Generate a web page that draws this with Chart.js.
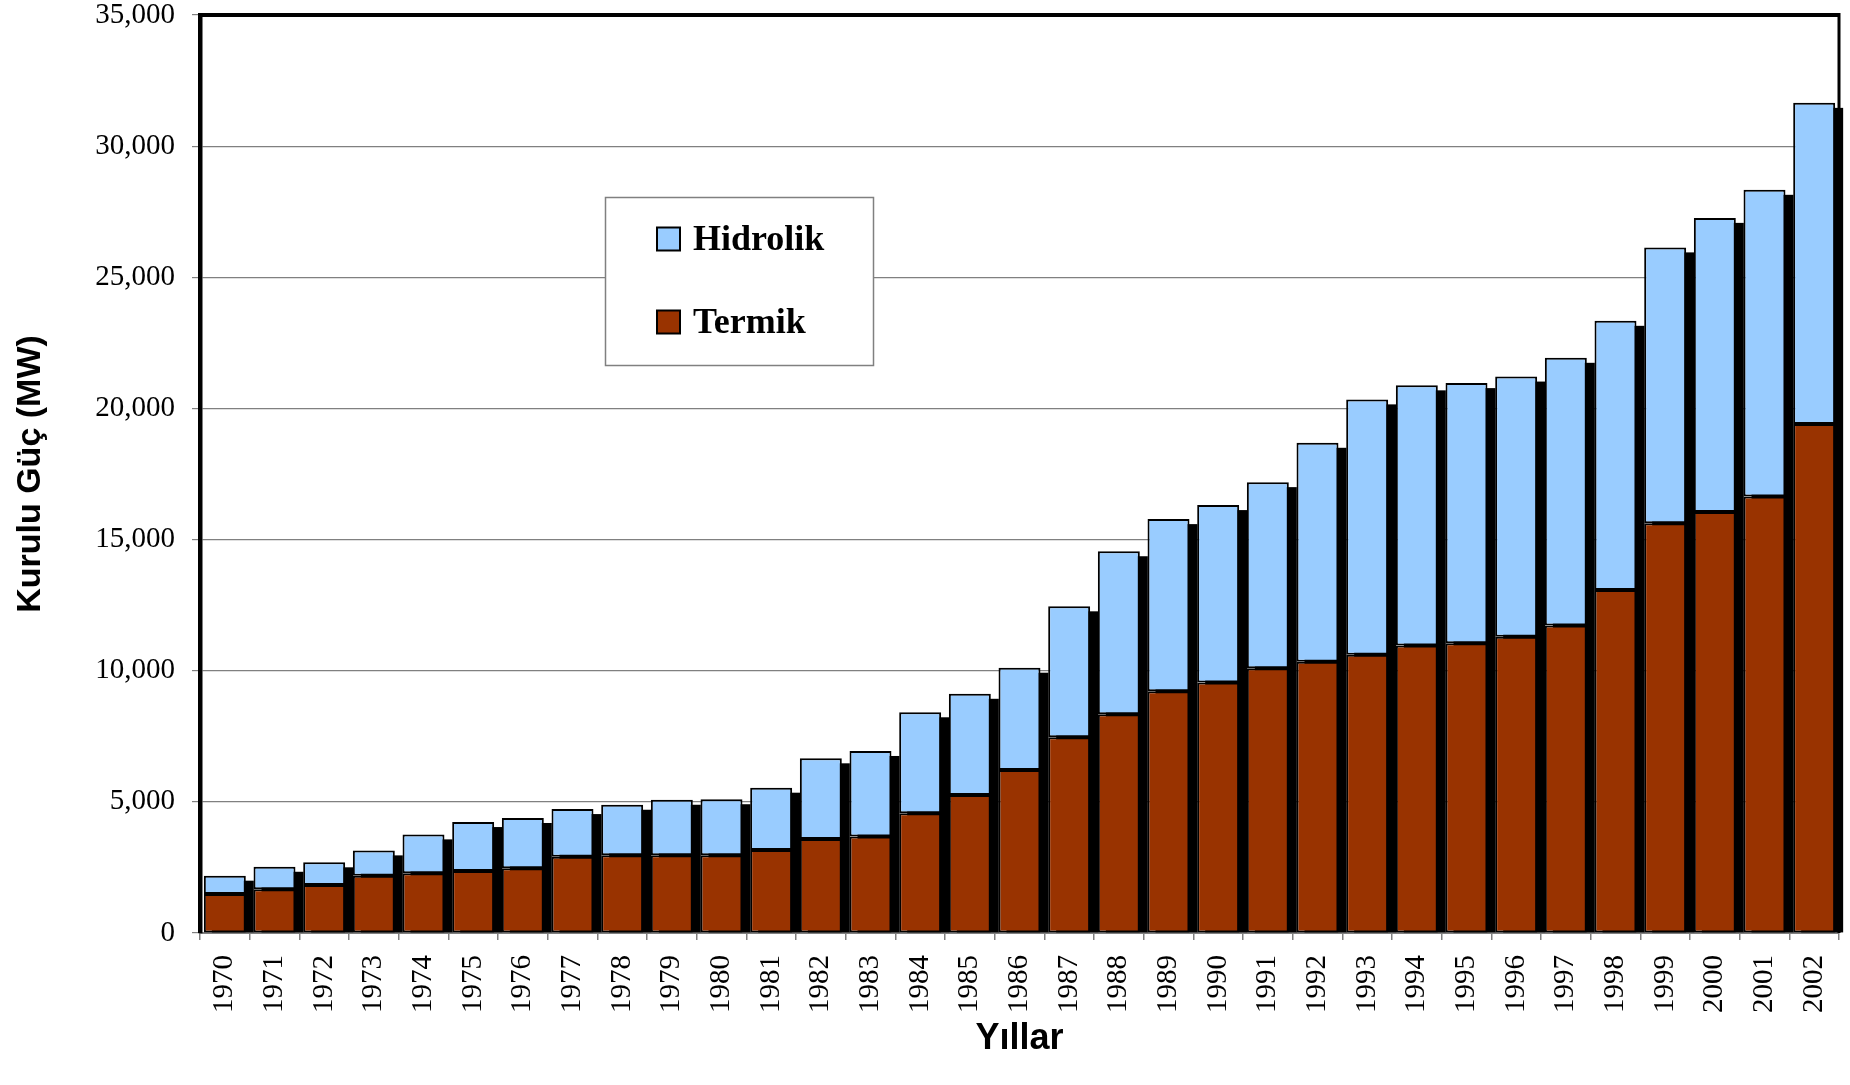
<!DOCTYPE html>
<html>
<head>
<meta charset="utf-8">
<script src="https://cdn.jsdelivr.net/npm/chart.js@4.4.1/dist/chart.umd.min.js"></script>
<style>
  html, body { margin: 0; padding: 0; background: #ffffff; }
  canvas { display: block; }
</style>
</head>
<body>
<canvas id="chart" width="1850" height="1085"></canvas>
<script>
// ---- Data ----
const years = ['1970','1971','1972','1973','1974','1975','1976','1977','1978','1979',
               '1980','1981','1982','1983','1984','1985','1986','1987','1988','1989',
               '1990','1991','1992','1993','1994','1995','1996','1997','1998','1999',
               '2000','2001','2002'];

const termik = [1490, 1665, 1830, 2185, 2275, 2365, 2465, 2910, 2960, 2960,
                2960, 3165, 3585, 3675, 4565, 5260, 6215, 7460, 8340, 9215,
                9555, 10090, 10340, 10610, 10965, 11045, 11295, 11725, 13075, 15620,
                16050, 16645, 19405];

const hidrolik = [695, 860, 865, 965, 1485, 1865, 1920, 1815, 1930, 2120,
                  2140, 2375, 3075, 3265, 3850, 3860, 3900, 4995, 6215, 6565,
                  6760, 7100, 8350, 9735, 9915, 9920, 9920, 10205, 10265, 10520,
                  11215, 11690, 12245];

const yTickValues = [0, 5000, 10000, 15000, 20000, 25000, 30000, 35000];

const seriesNames = ['Termik', 'Hidrolik'];
const seriesColors = ['#993300', '#99CCFF'];
const yTitle = 'Kurulu Güç (MW)';
const xTitle = 'Yıllar';

// ---- Plugins ----
const SH_DX = 8, SH_DY = 5;
const shadowPlugin = {
  id: 'barShadow',
  beforeDatasetsDraw(chart) {
    const ctx = chart.ctx;
    const topEls = chart.getDatasetMeta(1).data;
    const botEls = chart.getDatasetMeta(0).data;
    ctx.save();
    ctx.fillStyle = '#000000';
    topEls.forEach((el, i) => {
      const p = el.getProps(['x', 'y', 'width'], true);
      const base = botEls[i].getProps(['base'], true).base;
      ctx.fillRect(p.x - p.width / 2 + SH_DX, p.y + SH_DY, p.width, base - p.y - SH_DY);
    });
    ctx.restore();
  }
};

const framePlugin = {
  id: 'frame',
  afterDatasetsDraw(chart) {
    const ctx = chart.ctx;
    const a = chart.chartArea;
    ctx.save();
    ctx.strokeStyle = '#000000';
    ctx.lineWidth = 4;
    ctx.beginPath();
    ctx.moveTo(a.left - 2, a.top);
    ctx.lineTo(a.right, a.top);
    ctx.stroke();
    ctx.lineWidth = 3;
    ctx.beginPath();
    ctx.moveTo(a.right, a.top - 2);
    ctx.lineTo(a.right, a.bottom);
    ctx.stroke();
    ctx.restore();
  }
};

const boxLegendPlugin = {
  id: 'boxLegend',
  afterDraw(chart) {
    const ctx = chart.ctx;
    const bx = 605, by = 197, bw = 268, bh = 168;
    ctx.save();
    ctx.fillStyle = '#ffffff';
    ctx.fillRect(bx, by, bw, bh);
    ctx.strokeStyle = '#808080';
    ctx.lineWidth = 1.5;
    ctx.strokeRect(bx + 0.5, by + 0.5, bw, bh);
    const order = [1, 0]; // Hidrolik first, then Termik
    const rowsY = [239, 322];
    ctx.font = 'bold 36px "Liberation Serif", "Times New Roman", serif';
    ctx.textBaseline = 'middle';
    ctx.textAlign = 'left';
    order.forEach((di, r) => {
      const ds = chart.data.datasets[di];
      const cy = rowsY[r];
      ctx.fillStyle = ds.backgroundColor;
      ctx.fillRect(657, cy - 11.5, 23, 23);
      ctx.strokeStyle = '#000000';
      ctx.lineWidth = 2;
      ctx.strokeRect(657, cy - 11.5, 23, 23);
      ctx.fillStyle = '#000000';
      ctx.fillText(ds.label, 693, cy + 2);
    });
    ctx.restore();
  }
};

// ---- Chart ----
new Chart(document.getElementById('chart'), {
  type: 'bar',
  data: {
    labels: years,
    datasets: [
      {
        label: seriesNames[0],
        data: termik,
        backgroundColor: seriesColors[0],
        borderColor: '#000000',
        borderWidth: 2,
        borderSkipped: false,
        barPercentage: 0.845,
        categoryPercentage: 1.0
      },
      {
        label: seriesNames[1],
        data: hidrolik,
        backgroundColor: seriesColors[1],
        borderColor: '#000000',
        borderWidth: 2,
        borderSkipped: false,
        barPercentage: 0.845,
        categoryPercentage: 1.0
      }
    ]
  },
  options: {
    responsive: false,
    animation: false,
    devicePixelRatio: 1,
    layout: { padding: { top: 15, right: 11, left: 0, bottom: 0 } },
    plugins: {
      legend: { display: false },
      tooltip: { enabled: false }
    },
    scales: {
      x: {
        stacked: true,
        offset: true,
        afterFit(scale) {
          scale.height = 152;
          scale.paddingLeft = 0;
          scale.paddingRight = 0;
        },
        grid: {
          display: true,
          drawOnChartArea: false,
          offset: true,
          tickLength: 7,
          color: '#808080',
          lineWidth: 1.5
        },
        border: { display: true, color: '#808080', width: 2 },
        ticks: {
          autoSkip: false,
          minRotation: 90,
          maxRotation: 90,
          padding: 15,
          color: '#000000',
          font: { family: '"Liberation Serif", "Times New Roman", serif', size: 29, lineHeight: 1.0 }
        },
        title: {
          display: true,
          text: xTitle,
          color: '#000000',
          font: { family: '"Liberation Sans", Arial, sans-serif', size: 36, weight: 'bold' },
          padding: { top: 0, bottom: 24 }
        }
      },
      y: {
        stacked: true,
        min: 0,
        max: 35000,
        afterFit(scale) {
          scale.width = 200;
          scale.paddingTop = 0;
          scale.paddingBottom = 0;
        },
        afterBuildTicks(scale) { scale.ticks = yTickValues.map(v => ({ value: v })); },
        grid: {
          display: true,
          drawOnChartArea: true,
          tickLength: 8,
          color: '#808080',
          lineWidth: 1.2
        },
        border: { display: true, color: '#000000', width: 4.5 },
        ticks: {
          padding: 17,
          color: '#000000',
          font: { family: '"Liberation Serif", "Times New Roman", serif', size: 29, lineHeight: 1.0 },
          callback: (v) => Number(v).toLocaleString('en-US')
        },
        title: {
          display: true,
          text: yTitle,
          color: '#000000',
          font: { family: '"Liberation Sans", Arial, sans-serif', size: 34, weight: 'bold' },
          padding: { top: 10, bottom: 0 }
        }
      }
    }
  },
  plugins: [shadowPlugin, framePlugin, boxLegendPlugin]
});
</script>
</body>
</html>
